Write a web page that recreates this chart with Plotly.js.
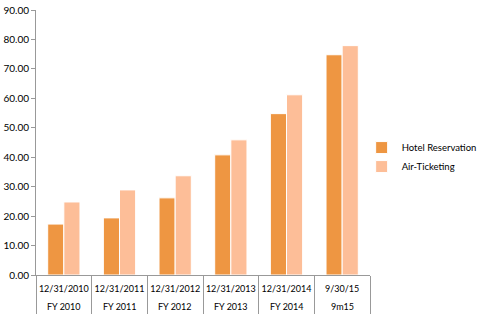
<!DOCTYPE html>
<html><head><meta charset="utf-8">
<script src="https://cdn.plot.ly/plotly-3.0.1.min.js"></script>
<style>html,body{margin:0;padding:0;background:#fff}#c{width:483px;height:314px}</style>
</head><body><div id="c"></div>
<script>
const periods = ["FY 2010","FY 2011","FY 2012","FY 2013","FY 2014","9m15"];
const dates = ["12/31/2010","12/31/2011","12/31/2012","12/31/2013","12/31/2014","9/30/15"];
const hotel = [17.3, 19.4, 26.2, 40.8, 54.8, 74.8];
const air = [24.8, 28.9, 33.7, 45.9, 61.2, 77.9];
const yTicks = [0,10,20,30,40,50,60,70,80,90];

const fam = "Lato, Open Sans, sans-serif";
const data = [
  {type:"bar", name:"Hotel Reservation", x:dates, y:hotel,
   marker:{color:"#EE9642", line:{color:"#fff", width:1}}},
  {type:"bar", name:"Air-Ticketing", x:dates, y:air,
   marker:{color:"#FDBE98", line:{color:"#fff", width:1}}}
];
const annotations = dates.map((d, i) => ({
  x:d, xref:"x", y:-0.118, yref:"paper", yanchor:"middle", xanchor:"center",
  text:periods[i], showarrow:false, font:{family:fam, size:9, color:"#000"}
}));
const layout = {
  width:483, height:314,
  margin:{l:36, r:113, t:10, b:39, autoexpand:false},
  paper_bgcolor:"#fff", plot_bgcolor:"#fff",
  font:{family:fam, size:10, color:"#000"},
  barmode:"group", bargap:0.42, bargroupgap:0,
  showlegend:true,
  legend:{x:0.975, y:0.445, xanchor:"left", yanchor:"middle", bgcolor:"rgba(0,0,0,0)",
    font:{family:fam, size:9.5}, tracegroupgap:4},
  annotations:annotations,
  xaxis:{type:"category", showline:true, linecolor:"#999", linewidth:1, tickangle:0,
    ticks:"outside", tickson:"boundaries", ticklen:39, tickcolor:"#999", tickwidth:1,
    ticklabelstandoff:5, tickfont:{size:9}, fixedrange:true},
  yaxis:{range:[0,90], tickvals:yTicks, tickformat:".2f", showgrid:false, zeroline:false,
    showline:true, linecolor:"#999", linewidth:1, ticks:"outside", ticklen:4, tickcolor:"#999", tickfont:{size:10}}
};
Plotly.newPlot("c", data, layout, {displayModeBar:false, staticPlot:true});
</script></body></html>
